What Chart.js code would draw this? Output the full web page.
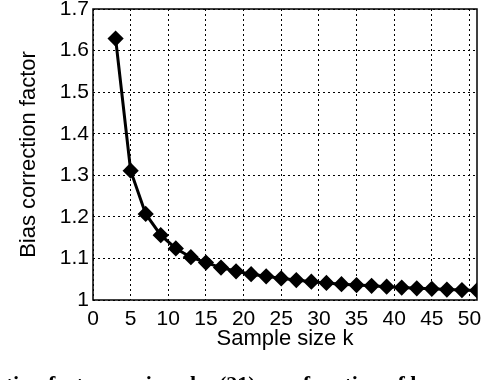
<!DOCTYPE html>
<html>
<head>
<meta charset="utf-8">
<script src="https://cdn.jsdelivr.net/npm/chart.js@4/dist/chart.umd.min.js"></script>
<style>
  html, body { margin: 0; padding: 0; background: #fff; }
  #wrap { width: 490px; height: 380px; }
</style>
</head>
<body>
<div id="wrap"><canvas id="chart-canvas" width="490" height="380"></canvas></div>
<script>
const sampleSizes = [3, 5, 7, 9, 11, 13, 15, 17, 19, 21, 23, 25, 27, 29, 31, 33, 35, 37, 39, 41, 43, 45, 47, 49, 51];
const biasFactor = [1.629, 1.311, 1.207, 1.156, 1.124, 1.103, 1.090, 1.078, 1.069, 1.062, 1.057, 1.052,
  1.048, 1.044, 1.041, 1.038, 1.036, 1.034, 1.032, 1.030, 1.028, 1.027, 1.025, 1.024, 1.023];
const xTicks = [0, 5, 10, 15, 20, 25, 30, 35, 40, 45, 50];
const yTicks = [1, 1.1, 1.2, 1.3, 1.4, 1.5, 1.6, 1.7];
const captionText = 'ction factor as given by (21) as a function of k';

const chartCtx = document.getElementById('chart-canvas');
const font = 'Liberation Sans, Arial, sans-serif';

// cut-off caption line under the figure
const captionPlugin = {
  id: 'caption',
  afterDraw(chart) {
    const c = chart.ctx;
    c.save();
    c.fillStyle = '#000';
    c.font = 'bold 22px "Liberation Serif", serif';
    c.textBaseline = 'top';
    c.fillText(captionText, -4, 374);
    c.restore();
  }
};

// solid box around the plot area
const boxPlugin = {
  id: 'box',
  afterDatasetsDraw(chart) {
    const a = chart.chartArea;
    const c = chart.ctx;
    c.save();
    c.strokeStyle = '#000';
    c.lineWidth = 1.5;
    c.strokeRect(a.left, a.top, a.right - a.left, a.bottom - a.top);
    c.restore();
  }
};

new Chart(chartCtx, {
  type: 'line',
  data: {
    datasets: [{
      data: sampleSizes.map((k, i) => ({ x: k, y: biasFactor[i] })),
      borderColor: '#000',
      backgroundColor: '#000',
      borderWidth: 3,
      pointStyle: 'rectRot',
      pointRadius: 6,
      pointBackgroundColor: '#000',
      pointBorderColor: '#000',
      tension: 0
    }]
  },
  options: {
    responsive: false,
    animation: false,
    layout: { padding: { left: 16, top: 5, right: 13, bottom: 28 } },
    plugins: { legend: { display: false }, tooltip: { enabled: false } },
    scales: {
      x: {
        type: 'linear',
        min: 0,
        max: 51,
        afterBuildTicks: s => { s.ticks = xTicks.map(v => ({ value: v })); },
        afterFit: s => { s.height = 52; s.paddingLeft = 0; s.paddingRight = 0; },
        ticks: { color: '#000', font: { family: font, size: 21 }, padding: 7, maxRotation: 0 },
        grid: { color: '#000', lineWidth: 1, drawTicks: false },
        border: { display: false, dash: [2, 3] },
        title: { display: true, text: 'Sample size k', color: '#000', font: { family: font, size: 22 }, padding: 0 }
      },
      y: {
        min: 1,
        max: 1.7,
        afterBuildTicks: s => { s.ticks = yTicks.map(v => ({ value: v })); },
        afterFit: s => { s.width = 77; s.paddingTop = 0; s.paddingBottom = 0; },
        ticks: {
          color: '#000', font: { family: font, size: 21 }, padding: 4,
          callback: v => String(Math.round(v * 10) / 10)
        },
        grid: { color: '#000', lineWidth: 1, drawTicks: false },
        border: { display: false, dash: [2, 3] },
        title: { display: true, text: 'Bias correction factor', color: '#000', font: { family: font, size: 22 }, padding: 0 }
      }
    }
  },
  plugins: [boxPlugin, captionPlugin]
});
</script>
</body>
</html>
